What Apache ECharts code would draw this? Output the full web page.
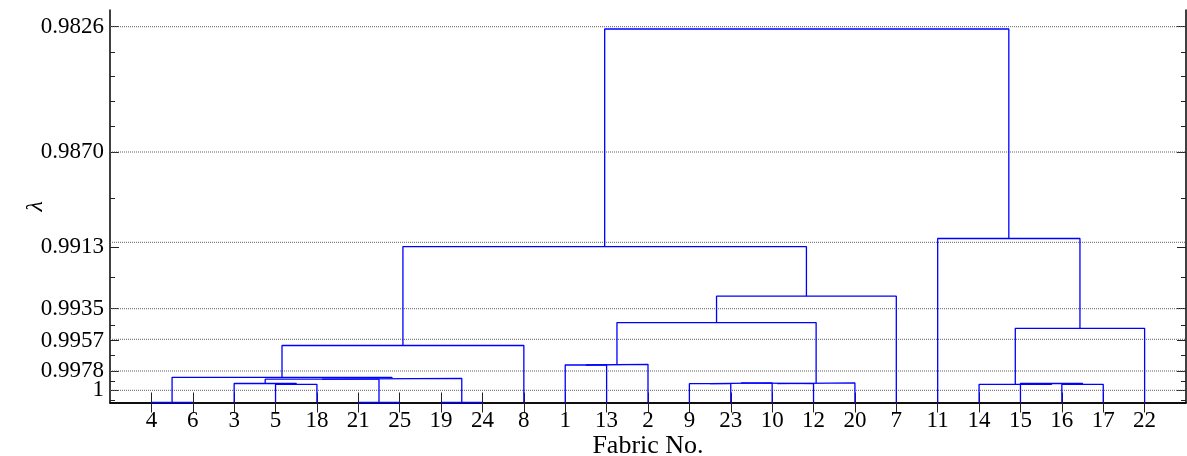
<!DOCTYPE html>
<html>
<head>
<meta charset="utf-8">
<script src="https://cdn.jsdelivr.net/npm/echarts@6/dist/echarts.min.js"></script>
<style>
  html, body { margin: 0; padding: 0; background: #fff; }
  #chart { width: 1187px; height: 456px; }
</style>
</head>
<body>
<div id="chart"></div>
<script>
// Leaf order along the x axis (Fabric No.)
const leafOrder = [4, 6, 3, 5, 18, 21, 25, 19, 24, 8, 1, 13, 2, 9, 23, 10, 12, 20, 7, 11, 14, 15, 16, 17, 22];

// Linkage: children are 'f<fabric>' (leaf) or 'n<merge index>' (earlier merge)
const mergeLeft  = ['f4', 'f21', 'f19', 'f5', 'f3', 'n4', 'n5', 'n0', 'n7', 'f1', 'n9', 'f9', 'n11', 'n12', 'n13', 'n10', 'n15', 'n8', 'f16', 'f15', 'f14', 'n20', 'f11', 'n17'];
const mergeRight = ['f6', 'f25', 'f24', 'f18', 'n3', 'n1', 'n2', 'n6', 'f8', 'f13', 'f2', 'f23', 'f10', 'f12', 'f20', 'n14', 'f7', 'n16', 'f17', 'n18', 'n19', 'f22', 'n21', 'n22'];
// Merge heights on the plot's linear height scale
const mergeHeight = [0, 0, 0, 1.82, 1.9, 2.33, 2.42, 2.52, 5.7, 3.75, 3.82, 1.88, 1.96, 1.88, 1.96, 7.99, 10.63, 15.59, 1.82, 1.9, 1.82, 7.42, 16.4, 37.35];

// y-axis (lambda) tick labels and their positions on the height scale
const yLabelText = ['0.9826', '0.9870', '0.9913', '0.9935', '0.9957', '0.9978', '1'];
const yLabelPos  = [37.58, 25.05, 15.52, 9.38, 6.18, 3.15, 1.22];
const yGridPos   = [37.58, 25.05, 16.02, 9.38, 6.32, 3.15, 1.22];
const yMinorPos  = [35.05, 32.58, 30.08, 27.58, 20.42, 12.52, 7.75, 4.68, 2.15, 0.25];

const xMax = leafOrder.length + 1;
const yMax = 39.25;

// ---- build dendrogram layout ----
const leafPos = leafOrder.map((f, i) => i + 1);
const nodeX = [], nodeH = [];
function childInfo(ref) {
  if (ref[0] === 'f') {
    const f = parseInt(ref.slice(1), 10);
    return { x: leafOrder.indexOf(f) + 1, h: 0 };
  }
  const k = parseInt(ref.slice(1), 10);
  return { x: nodeX[k], h: nodeH[k] };
}
const series = [];
yGridPos.forEach(v => {
  series.push({
    type: 'line', xAxisIndex: 0, yAxisIndex: 0, silent: true, animation: false,
    showSymbol: false, symbol: 'none', z: 1,
    data: [[0, v], [xMax, v]],
    lineStyle: { color: '#606060', width: 1, type: [1, 1] }
  });
});
for (let k = 0; k < mergeHeight.length; k++) {
  const L = childInfo(mergeLeft[k]);
  const R = childInfo(mergeRight[k]);
  const h = mergeHeight[k];
  nodeX[k] = (L.x + R.x) / 2;
  nodeH[k] = h;
  series.push({
    type: 'line', xAxisIndex: 0, yAxisIndex: 0, silent: true, animation: false,
    showSymbol: false, symbol: 'none', clip: false, z: 5,
    data: [[L.x, L.h], [L.x, h], [R.x, h], [R.x, R.h]],
    lineStyle: { color: '#0000ff', width: 1.3 }
  });
}

const serif = 'Liberation Serif, Times New Roman, serif';
const axisLineStyle = { show: true, lineStyle: { color: '#000', width: 1.5 } };
const tickColor = '#222';

// y labels split over two overlapping axes (alternating) so none is dropped
const yLabelPosA = yLabelPos.filter((p, i) => i % 2 === 0);
const yLabelPosB = yLabelPos.filter((p, i) => i % 2 === 1);
function yFmt(v) {
  let best = -1, bd = 1e9;
  yLabelPos.forEach((p, i) => { const d = Math.abs(p - v); if (d < bd) { bd = d; best = i; } });
  return bd < 0.01 ? yLabelText[best] : '';
}
const yLabelStyle = { fontFamily: serif, fontSize: 23, color: '#000' };

const option = {
  backgroundColor: '#fff',
  animation: false,
  grid: { left: 110, right: 1, top: 10, bottom: 53.5, containLabel: false, outerBoundsMode: 'none' },
  xAxis: [
    {
      type: 'value', position: 'bottom', min: 0, max: xMax,
      axisLine: axisLineStyle,
      axisTick: { show: true, inside: true, length: 10, customValues: leafPos, lineStyle: { color: tickColor, width: 1 } },
      axisLabel: {
        show: true, customValues: leafPos, margin: 7, hideOverlap: false,
        fontFamily: serif, fontSize: 23, color: '#000',
        formatter: v => { const i = Math.round(v) - 1; return (i >= 0 && i < leafOrder.length) ? String(leafOrder[i]) : ''; }
      },
      splitLine: { show: false },
      name: 'Fabric No.', nameLocation: 'middle', nameGap: 31, nameMoveOverlap: false,
      nameTextStyle: { fontFamily: serif, fontSize: 26, color: '#000' }
    },
    {
      type: 'value', position: 'top', min: 0, max: xMax,
      axisLine: axisLineStyle,
      axisTick: { show: true, inside: true, length: 10, customValues: leafPos, lineStyle: { color: tickColor, width: 1 } },
      axisLabel: { show: false },
      splitLine: { show: false }
    }
  ],
  yAxis: [
    {
      type: 'value', position: 'left', min: 0, max: yMax,
      axisLine: axisLineStyle,
      axisTick: { show: true, inside: true, length: 9, customValues: yLabelPos, lineStyle: { color: tickColor, width: 1 } },
      axisLabel: Object.assign({ show: true, customValues: yLabelPosA, margin: 6, hideOverlap: false, formatter: yFmt }, yLabelStyle),
      splitLine: { show: false },
      name: 'λ', nameLocation: 'middle', nameGap: 62, nameRotate: 90, nameMoveOverlap: false,
      nameTextStyle: { fontFamily: serif, fontStyle: 'italic', fontSize: 24, color: '#000' }
    },
    {
      type: 'value', position: 'left', min: 0, max: yMax,
      axisLine: { show: false },
      axisTick: { show: true, inside: true, length: 5, customValues: yMinorPos, lineStyle: { color: tickColor, width: 1 } },
      axisLabel: Object.assign({ show: true, customValues: yLabelPosB, margin: 6, hideOverlap: false, formatter: yFmt }, yLabelStyle),
      splitLine: { show: false }
    },
    {
      type: 'value', position: 'right', min: 0, max: yMax,
      axisLine: axisLineStyle,
      axisTick: { show: true, inside: true, length: 9, customValues: yLabelPos, lineStyle: { color: tickColor, width: 1 } },
      axisLabel: { show: false },
      splitLine: { show: false }
    },
    {
      type: 'value', position: 'right', min: 0, max: yMax,
      axisLine: { show: false },
      axisTick: { show: true, inside: true, length: 5, customValues: yMinorPos, lineStyle: { color: tickColor, width: 1 } },
      axisLabel: { show: false },
      splitLine: { show: false }
    }
  ],
  series: series
};

const chart = echarts.init(document.getElementById('chart'), null, { renderer: 'canvas' });
chart.setOption(option);
</script>
</body>
</html>
